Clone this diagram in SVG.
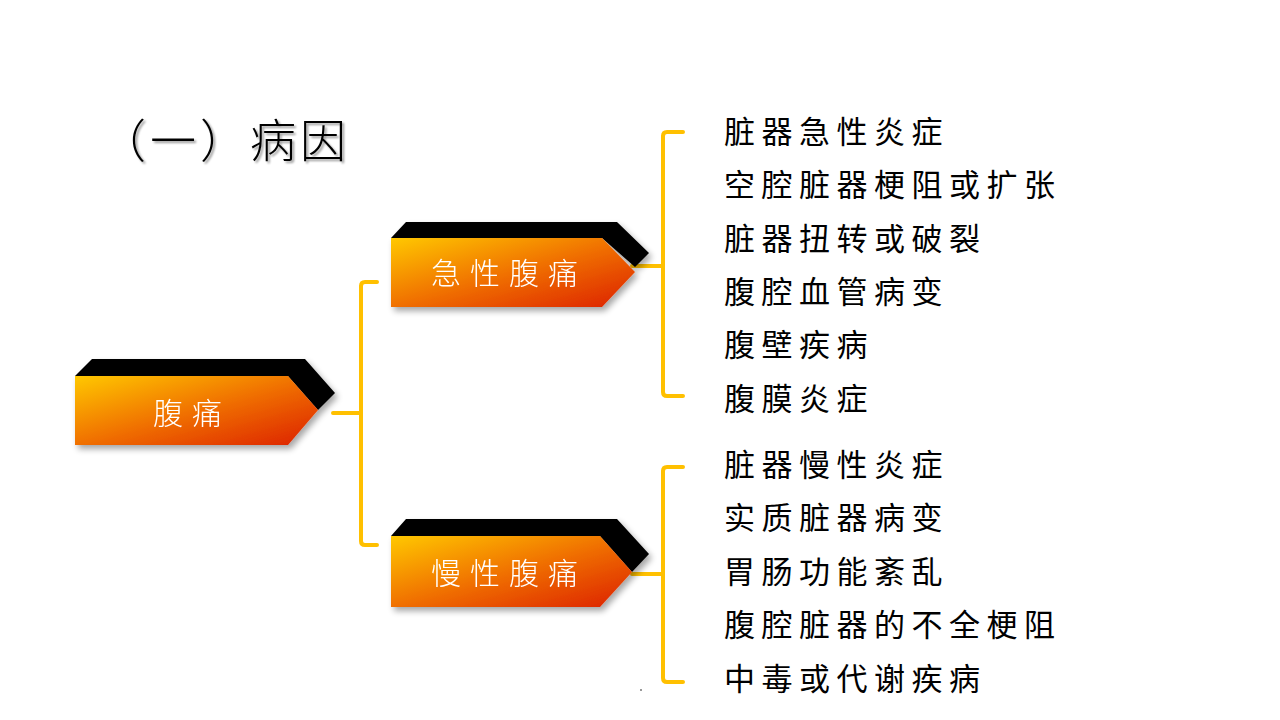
<svg xmlns="http://www.w3.org/2000/svg" width="1280" height="720" viewBox="0 0 1280 720">
<defs>
<linearGradient id="g" x1="0" y1="0" x2="1" y2="1">
<stop offset="0" stop-color="#FFC800"/>
<stop offset="0.5" stop-color="#F07000"/>
<stop offset="1" stop-color="#DC2000"/>
</linearGradient>
<filter id="sh" x="-10%" y="-10%" width="130%" height="140%">
<feGaussianBlur in="SourceAlpha" stdDeviation="3"/>
<feOffset dx="3" dy="4"/>
<feComponentTransfer><feFuncA type="linear" slope="0.35"/></feComponentTransfer>
<feMerge><feMergeNode/><feMergeNode in="SourceGraphic"/></feMerge>
</filter>
<filter id="tsh" x="-10%" y="-10%" width="130%" height="140%">
<feOffset in="SourceAlpha" dx="2" dy="2"/>
<feGaussianBlur stdDeviation="1.2"/>
<feComponentTransfer><feFuncA type="linear" slope="0.4"/></feComponentTransfer>
<feMerge><feMergeNode/><feMergeNode in="SourceGraphic"/></feMerge>
</filter>
</defs>
<style>
.front{fill:url(#g);}
.back{fill:#000;}
.lbl{font-family:"Noto Sans CJK SC","Noto Sans",sans-serif;font-size:30px;font-weight:300;fill:#fff;letter-spacing:9px;text-anchor:middle;dominant-baseline:central;}
.item{font-family:"Noto Sans CJK SC","Noto Sans",sans-serif;font-size:31px;fill:#000;letter-spacing:6.5px;dominant-baseline:central;}
.title{font-family:"Noto Sans CJK SC","Noto Sans",sans-serif;font-size:46px;font-weight:300;fill:#000;letter-spacing:4px;dominant-baseline:central;}
.con{fill:none;stroke:#FFC000;stroke-width:4;stroke-linejoin:round;stroke-linecap:round;}
</style>
<rect width="1280" height="720" fill="#fff"/>

<g id="title" filter="url(#tsh)">
<text class="title" x="100" y="137">（一）病因</text>
</g>

<g id="connectors">
<path class="con" d="M333,413 H361 M377,282 H365 Q361,282 361,286 V541 Q361,545 365,545 H377"/>
<path class="con" d="M632,266 H663 M683,132 H667 Q663,132 663,136 V392 Q663,396 667,396 H683"/>
<path class="con" d="M632,574 H663 M683,467 H667 Q663,467 663,471 V678 Q663,682 667,682 H683"/>
</g>

<g id="node-root" filter="url(#sh)">
<polygon class="back" points="75,376 92,359 305,359 335,393 318,410 288,376"/>
<polygon class="front" points="75,376 288,376 318,410 288,445 75,445"/>
<text class="lbl" x="192" y="411">腹痛</text>
</g>

<g id="node-acute" filter="url(#sh)">
<polygon class="back" points="391,238 406,222 617,222 649,253 635,267 602,238"/>
<polygon class="front" points="391,238 602,238 635,272 602,307 391,307"/>
<text class="lbl" x="509" y="271">急性腹痛</text>
</g>

<g id="node-chronic" filter="url(#sh)">
<polygon class="back" points="391,536 406,519 617,519 649,554 632,572 600,536"/>
<polygon class="front" points="391,536 600,536 632,572 600,607 391,607"/>
<text class="lbl" x="509" y="571">慢性腹痛</text>
</g>

<g id="list-acute">
<text class="item" x="724" y="129">脏器急性炎症</text>
<text class="item" x="724" y="182">空腔脏器梗阻或扩张</text>
<text class="item" x="724" y="236">脏器扭转或破裂</text>
<text class="item" x="724" y="289">腹腔血管病变</text>
<text class="item" x="724" y="342">腹壁疾病</text>
<text class="item" x="724" y="396">腹膜炎症</text>
</g>

<g id="list-chronic">
<text class="item" x="724" y="462">脏器慢性炎症</text>
<text class="item" x="724" y="515">实质脏器病变</text>
<text class="item" x="724" y="569">胃肠功能紊乱</text>
<text class="item" x="724" y="622">腹腔脏器的不全梗阻</text>
<text class="item" x="724" y="676">中毒或代谢疾病</text>
</g>
<rect x="640" y="689" width="2" height="2" fill="#999"/>
</svg>
